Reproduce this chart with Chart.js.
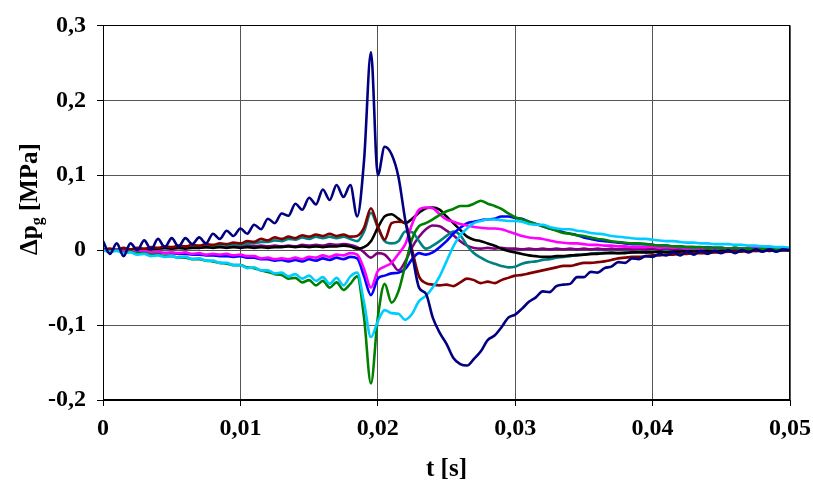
<!DOCTYPE html>
<html>
<head>
<meta charset="utf-8">
<script src="https://cdn.jsdelivr.net/npm/chart.js@4/dist/chart.umd.min.js"></script>
<style>
  html, body { margin: 0; padding: 0; background: #fff; }
  #wrap { width: 813px; height: 490px; }
</style>
</head>
<body>
<div id="wrap"><canvas id="c" width="813" height="490"></canvas></div>
<script>
// time step of the sampled curves [s]
const timeStep = 0.0005;

// pressure difference curves [MPa], one value every 0,5 ms from 0 to 0,05 s
const navy = [
  0.012, -0.005, 0.009, -0.008, 0.009, 0.000, 0.013, 0.001, 0.015, 0.004,
  0.016, 0.005, 0.016, 0.008, 0.017, 0.009, 0.022, 0.015, 0.026, 0.019,
  0.029, 0.022, 0.034, 0.028, 0.042, 0.036, 0.049, 0.046, 0.062, 0.054,
  0.070, 0.061, 0.081, 0.067, 0.087, 0.071, 0.087, 0.045, 0.120, 0.264,
  0.100, 0.138, 0.128, 0.098, 0.040, -0.005, -0.050, -0.058, -0.090, -0.110,
  -0.125, -0.144, -0.152, -0.154, -0.145, -0.135, -0.120, -0.114, -0.103, -0.090,
  -0.086, -0.078, -0.069, -0.063, -0.055, -0.056, -0.048, -0.046, -0.045, -0.036,
  -0.036, -0.029, -0.030, -0.024, -0.022, -0.016, -0.017, -0.011, -0.012, -0.008,
  -0.009, -0.005, -0.007, -0.003, -0.007, -0.002, -0.006, -0.001, -0.005, -0.001,
  -0.004, 0.000, -0.004, 0.000, -0.003, 0.001, -0.002, 0.001, -0.002, 0.001,
  0.000
];
const darkRed = [
  0.000, 0.002, 0.000, 0.003, 0.001, 0.003, 0.002, 0.004, 0.003, 0.005,
  0.004, 0.006, 0.005, 0.007, 0.006, 0.008, 0.007, 0.009, 0.008, 0.010,
  0.009, 0.012, 0.011, 0.015, 0.013, 0.017, 0.015, 0.018, 0.016, 0.020,
  0.018, 0.021, 0.019, 0.022, 0.019, 0.021, 0.018, 0.019, 0.030, 0.056,
  0.032, 0.014, 0.036, 0.038, 0.036, 0.000, -0.035, -0.044, -0.046, -0.047,
  -0.046, -0.048, -0.043, -0.038, -0.040, -0.044, -0.042, -0.044, -0.040, -0.037,
  -0.034, -0.033, -0.031, -0.029, -0.027, -0.025, -0.023, -0.021, -0.021, -0.019,
  -0.017, -0.017, -0.016, -0.015, -0.013, -0.011, -0.010, -0.009, -0.009, -0.008,
  -0.007, -0.007, -0.006, -0.006, -0.005, -0.005, -0.004, -0.004, -0.004, -0.003,
  -0.003, -0.002, -0.002, -0.002, -0.001, -0.001, -0.001, 0.000, -0.001, 0.000,
  0.000
];
const teal = [
  0.000, 0.001, 0.000, 0.002, 0.001, 0.002, 0.001, 0.003, 0.002, 0.003,
  0.003, 0.004, 0.004, 0.005, 0.004, 0.006, 0.005, 0.007, 0.006, 0.008,
  0.007, 0.009, 0.009, 0.011, 0.011, 0.013, 0.012, 0.015, 0.014, 0.017,
  0.015, 0.018, 0.016, 0.018, 0.016, 0.018, 0.015, 0.012, 0.025, 0.050,
  0.030, 0.012, 0.009, 0.012, 0.025, 0.024, 0.012, 0.002, 0.006, 0.012,
  0.019, 0.025, 0.020, 0.006, -0.004, -0.010, -0.015, -0.018, -0.021, -0.023,
  -0.022, -0.018, -0.016, -0.015, -0.013, -0.012, -0.010, -0.009, -0.008, -0.006,
  -0.006, -0.005, -0.004, -0.004, -0.003, -0.004, -0.003, -0.003, -0.002, -0.003,
  -0.002, -0.002, -0.001, -0.002, -0.001, -0.001, 0.000, -0.001, 0.000, 0.000,
  0.001, 0.000, 0.001, 0.000, 0.001, 0.000, 0.000, -0.001, 0.000, 0.000,
  0.000
];
const black = [
  0.000, 0.001, 0.000, 0.001, 0.001, 0.002, 0.001, 0.002, 0.002, 0.003,
  0.002, 0.003, 0.002, 0.003, 0.003, 0.004, 0.003, 0.004, 0.003, 0.004,
  0.003, 0.004, 0.003, 0.004, 0.003, 0.004, 0.004, 0.005, 0.004, 0.005,
  0.004, 0.005, 0.004, 0.005, 0.005, 0.006, 0.005, 0.002, 0.004, 0.012,
  0.030, 0.045, 0.048, 0.042, 0.036, 0.042, 0.050, 0.056, 0.057, 0.054,
  0.045, 0.036, 0.027, 0.018, 0.014, 0.012, 0.009, 0.006, 0.002, -0.001,
  -0.003, -0.005, -0.007, -0.008, -0.009, -0.009, -0.008, -0.008, -0.007, -0.007,
  -0.006, -0.005, -0.005, -0.004, -0.004, -0.004, -0.004, -0.003, -0.003, -0.003,
  -0.003, -0.002, -0.003, -0.002, -0.002, -0.001, -0.002, -0.001, -0.001, -0.002,
  -0.001, 0.000, -0.001, -0.001, 0.000, -0.001, 0.000, -0.001, 0.000, 0.000,
  0.000
];
const magenta = [
  0.000, -0.001, 0.001, -0.001, 0.000, -0.002, -0.001, -0.003, -0.002, -0.004,
  -0.003, -0.004, -0.003, -0.005, -0.004, -0.006, -0.005, -0.006, -0.005, -0.007,
  -0.006, -0.008, -0.008, -0.011, -0.010, -0.012, -0.011, -0.012, -0.010, -0.012,
  -0.009, -0.010, -0.007, -0.009, -0.006, -0.007, -0.004, -0.006, -0.025, -0.050,
  -0.028, -0.022, -0.017, -0.005, 0.008, 0.035, 0.054, 0.057, 0.056, 0.048,
  0.041, 0.038, 0.035, 0.033, 0.031, 0.030, 0.029, 0.029, 0.028, 0.025,
  0.022, 0.019, 0.017, 0.016, 0.015, 0.013, 0.011, 0.010, 0.009, 0.009,
  0.008, 0.007, 0.007, 0.006, 0.006, 0.005, 0.005, 0.004, 0.004, 0.004,
  0.005, 0.003, 0.004, 0.003, 0.004, 0.002, 0.003, 0.002, 0.003, 0.002,
  0.003, 0.002, 0.003, 0.002, 0.003, 0.002, 0.003, 0.002, 0.003, 0.002,
  0.003
];
const purple = [
  0.000, 0.001, 0.000, 0.001, 0.001, 0.002, 0.001, 0.002, 0.002, 0.003,
  0.002, 0.003, 0.003, 0.004, 0.003, 0.004, 0.004, 0.005, 0.004, 0.005,
  0.005, 0.006, 0.005, 0.006, 0.005, 0.006, 0.005, 0.006, 0.005, 0.007,
  0.006, 0.007, 0.006, 0.008, 0.007, 0.008, 0.007, 0.004, -0.003, -0.010,
  -0.004, -0.006, -0.016, -0.027, -0.015, 0.004, 0.018, 0.028, 0.033, 0.032,
  0.026, 0.020, 0.012, 0.006, 0.003, 0.002, 0.003, 0.002, 0.003, 0.002,
  0.002, 0.001, 0.002, 0.001, 0.002, 0.001, 0.002, 0.001, 0.002, 0.001,
  0.002, 0.001, 0.002, 0.001, 0.002, 0.001, 0.002, 0.001, 0.002, 0.001,
  0.002, 0.001, 0.002, 0.001, 0.002, 0.001, 0.002, 0.001, 0.002, 0.001,
  0.002, 0.001, 0.002, 0.001, 0.002, 0.001, 0.002, 0.001, 0.002, 0.001,
  0.002
];
const blue = [
  0.000, -0.001, 0.000, -0.002, -0.001, -0.002, -0.002, -0.003, -0.003, -0.004,
  -0.004, -0.005, -0.005, -0.006, -0.006, -0.007, -0.007, -0.008, -0.008, -0.009,
  -0.008, -0.010, -0.010, -0.012, -0.012, -0.014, -0.013, -0.015, -0.013, -0.015,
  -0.012, -0.014, -0.011, -0.013, -0.010, -0.012, -0.009, -0.011, -0.035, -0.060,
  -0.038, -0.034, -0.031, -0.030, -0.025, -0.012, -0.004, -0.006, -0.003, 0.004,
  0.012, 0.022, 0.030, 0.036, 0.038, 0.040, 0.041, 0.042, 0.045, 0.045,
  0.043, 0.042, 0.038, 0.035, 0.032, 0.029, 0.027, 0.024, 0.022, 0.020,
  0.017, 0.015, 0.013, 0.012, 0.011, 0.010, 0.009, 0.008, 0.008, 0.008,
  0.007, 0.006, 0.006, 0.005, 0.005, 0.004, 0.004, 0.003, 0.004, 0.003,
  0.003, 0.002, 0.003, 0.002, 0.003, 0.002, 0.003, 0.002, 0.003, 0.002,
  0.002
];
const cyan = [
  0.000, -0.002, -0.001, -0.004, -0.003, -0.006, -0.005, -0.008, -0.007, -0.009,
  -0.008, -0.010, -0.009, -0.012, -0.011, -0.014, -0.014, -0.017, -0.017, -0.020,
  -0.020, -0.024, -0.023, -0.027, -0.027, -0.031, -0.030, -0.035, -0.032, -0.038,
  -0.034, -0.041, -0.036, -0.045, -0.037, -0.047, -0.035, -0.030, -0.070, -0.116,
  -0.095, -0.080, -0.084, -0.085, -0.093, -0.085, -0.068, -0.061, -0.050, -0.035,
  -0.015, 0.005, 0.020, 0.029, 0.036, 0.039, 0.041, 0.041, 0.040, 0.039,
  0.039, 0.038, 0.035, 0.034, 0.034, 0.031, 0.029, 0.028, 0.028, 0.026,
  0.025, 0.023, 0.022, 0.021, 0.019, 0.018, 0.017, 0.016, 0.015, 0.015,
  0.014, 0.013, 0.012, 0.012, 0.011, 0.010, 0.010, 0.009, 0.009, 0.008,
  0.008, 0.008, 0.007, 0.007, 0.006, 0.006, 0.005, 0.005, 0.004, 0.004,
  0.003
];
const green = [
  0.000, -0.002, 0.000, -0.003, -0.002, -0.004, -0.004, -0.006, -0.006, -0.008,
  -0.008, -0.010, -0.010, -0.012, -0.012, -0.014, -0.015, -0.017, -0.018, -0.020,
  -0.020, -0.023, -0.024, -0.027, -0.029, -0.032, -0.033, -0.038, -0.037, -0.043,
  -0.040, -0.047, -0.041, -0.050, -0.043, -0.053, -0.045, -0.035, -0.090, -0.178,
  -0.090, -0.045, -0.070, -0.055, -0.020, 0.015, 0.032, 0.036, 0.041, 0.047,
  0.052, 0.055, 0.059, 0.059, 0.062, 0.066, 0.062, 0.059, 0.055, 0.049,
  0.044, 0.041, 0.038, 0.035, 0.032, 0.029, 0.026, 0.023, 0.022, 0.020,
  0.019, 0.017, 0.015, 0.014, 0.012, 0.011, 0.010, 0.009, 0.009, 0.008,
  0.007, 0.006, 0.006, 0.005, 0.005, 0.004, 0.004, 0.004, 0.003, 0.003,
  0.003, 0.002, 0.003, 0.002, 0.002, 0.001, 0.002, 0.001, 0.001, 0.001,
  0.001
];

// axis ticks
const xTicks = [0, 0.01, 0.02, 0.03, 0.04, 0.05];
const yTicks = [-0.2, -0.1, 0, 0.1, 0.2, 0.3];

const seriesList = [
  { data: navy, color: '#000080' },
  { data: cyan, color: '#00CCFF' },
  { data: green, color: '#008000' },
  { data: darkRed, color: '#800000' },
  { data: magenta, color: '#FF00FF' },
  { data: blue, color: '#0000FF' },
  { data: black, color: '#000000' },
  { data: teal, color: '#008080' },
  { data: purple, color: '#800080' }
];

const FONT = '"Liberation Serif", "Times New Roman", serif';

function fmtComma(v) {
  return String(+v.toFixed(2)).replace('.', ',');
}

// y title with subscript, x title; drawn after the chart
const titlesPlugin = {
  id: 'titles',
  afterDraw(chart) {
    const ctx = chart.ctx;
    const area = chart.chartArea;
    ctx.save();
    ctx.fillStyle = '#000';

    // x title
    ctx.font = 'bold 25px ' + FONT;
    ctx.textAlign = 'center';
    ctx.textBaseline = 'alphabetic';
    ctx.fillText('t [s]', (area.left + area.right) / 2, 476);

    // y title: Δp_g [MPa]
    const bigFont = 'bold 25px ' + FONT;
    const subFont = 'bold 16px ' + FONT;
    ctx.font = bigFont;
    const w1 = ctx.measureText('Δp').width;
    const w3 = ctx.measureText(' [MPa]').width;
    ctx.font = subFont;
    const w2 = ctx.measureText('g').width;
    const total = w1 + w2 + w3;

    ctx.translate(29, 199);
    ctx.rotate(-Math.PI / 2);
    ctx.textAlign = 'left';
    let x = -total / 2;
    ctx.font = bigFont;
    ctx.fillText('Δp', x, 8);
    x += w1;
    ctx.font = subFont;
    ctx.fillText('g', x, 13);
    x += w2;
    ctx.font = bigFont;
    ctx.fillText(' [MPa]', x, 8);
    ctx.restore();

    // plot frame
    ctx.save();
    ctx.strokeStyle = '#000';
    ctx.lineWidth = 1;
    ctx.strokeRect(Math.round(area.left) + 0.5, Math.round(area.top) + 0.5,
      Math.round(area.right - area.left) - 1, Math.round(area.bottom - area.top) - 1);
    ctx.restore();
  }
};

const chart = new Chart(document.getElementById('c'), {
  type: 'line',
  data: {
    datasets: seriesList.map(s => ({
      data: s.data.map((v, i) => ({ x: i * timeStep, y: v })),
      borderColor: s.color,
      backgroundColor: s.color,
      borderWidth: 2.6,
      pointRadius: 0,
      cubicInterpolationMode: 'monotone',
      fill: false
    }))
  },
  options: {
    responsive: false,
    animation: false,
    events: [],
    layout: { padding: { left: 0, right: 23, top: 22, bottom: 0 } },
    plugins: {
      legend: { display: false },
      tooltip: { enabled: false }
    },
    scales: {
      x: {
        type: 'linear',
        min: 0,
        max: 0.05,
        afterBuildTicks: axis => { axis.ticks = xTicks.map(v => ({ value: v })); },
        afterFit: axis => { axis.height = 90; axis.paddingRight = 0; },
        grid: { color: '#555', lineWidth: 1, tickLength: 6, tickColor: '#000' },
        border: { color: '#000', width: 1 },
        ticks: {
          color: '#000',
          padding: 8,
          maxRotation: 0,
          font: { family: FONT, size: 24, weight: 'bold' },
          callback: v => fmtComma(v)
        }
      },
      y: {
        min: -0.2,
        max: 0.3,
        afterBuildTicks: axis => { axis.ticks = yTicks.map(v => ({ value: v })); },
        afterFit: axis => { axis.width = 103; },
        grid: { color: '#555', lineWidth: 1, tickLength: 6, tickColor: '#000' },
        border: { color: '#000', width: 1 },
        ticks: {
          color: '#000',
          padding: 11,
          font: { family: FONT, size: 24, weight: 'bold' },
          callback: v => fmtComma(v)
        }
      }
    }
  },
  plugins: [titlesPlugin]
});
</script>
</body>
</html>
